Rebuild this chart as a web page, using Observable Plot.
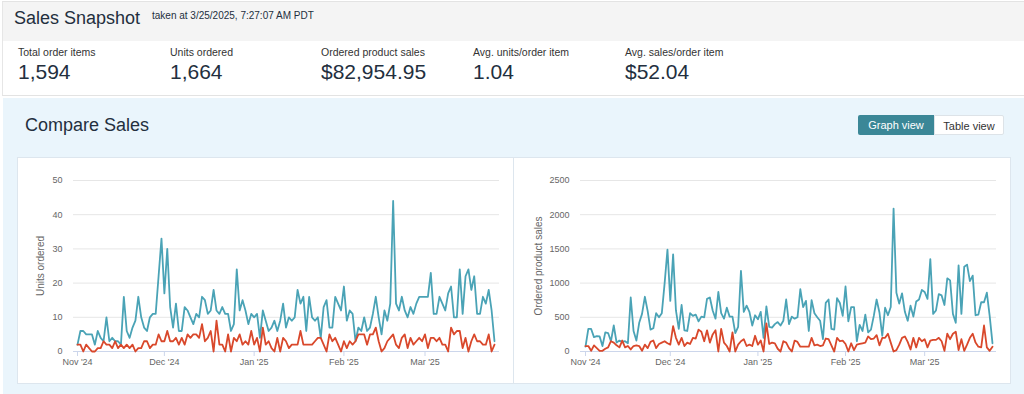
<!DOCTYPE html>
<html><head><meta charset="utf-8">
<script src="https://cdn.jsdelivr.net/npm/d3@7"></script>
<script src="https://cdn.jsdelivr.net/npm/@observablehq/plot@0.6"></script>
<style>
html,body{margin:0;padding:0}
body{width:1024px;height:394px;overflow:hidden;background:#fff;position:relative;font-family:"Liberation Sans",Arial,Helvetica,sans-serif;color:#232f3e}
.abs{position:absolute}
#hdr{left:2px;top:1px;width:1022px;height:39px;background:#f4f4f4;border-top:1px solid #e3e3e3;border-bottom:1px solid #e6e6e6;border-left:1px solid #e6e6e6}
#title{left:14px;top:8px;font-size:18px;line-height:20px;white-space:nowrap}
#taken{left:152px;top:10px;font-size:10px;line-height:12px;white-space:nowrap}
#metrics{left:2px;top:41px;width:1022px;height:54px;background:#fff;border-left:1px solid #e6e6e6;border-bottom:1px solid #e3e3e3}
.mlab{font-size:10.5px;top:46px;line-height:12px;color:#333;white-space:nowrap}
.mval{font-size:21px;top:61px;line-height:22px;color:#232f3e;white-space:nowrap}
#blue{left:3px;top:98px;width:1021px;height:296px;background:#eaf5fc}
#cmp{left:25px;top:115px;font-size:18px;line-height:20px;white-space:nowrap}
.btn{top:115px;height:20px;line-height:20px;font-size:11px;text-align:center;box-sizing:border-box}
#gv{left:858px;width:76px;background:#3b8797;color:#fff;border-radius:2px 0 0 2px}
#tv{left:934px;width:70px;background:#fff;color:#333;border:1px solid #dde3e8;border-radius:0 2px 2px 0}
#panels{left:17px;top:157px;width:994px;height:227px;background:#fff;border:1px solid #dde6ee;box-sizing:border-box}
#divider{left:513px;top:157px;width:1px;height:227px;background:#dde6ee}
#c1{left:17px;top:157px}
#c2{left:514px;top:157px}
</style></head><body>
<div id="hdr" class="abs"></div>
<div id="title" class="abs">Sales Snapshot</div>
<div id="taken" class="abs">taken at 3/25/2025, 7:27:07 AM PDT</div>
<div id="metrics" class="abs"></div>
<div id="mlabs"></div>
<div id="blue" class="abs"></div>
<div id="cmp" class="abs">Compare Sales</div>
<div id="gv" class="abs btn">Graph view</div>
<div id="tv" class="abs btn">Table view</div>
<div id="panels" class="abs"></div>
<div id="divider" class="abs"></div>
<div id="c1" class="abs"></div>
<div id="c2" class="abs"></div>
<script>
// ---- summary metrics ----
const metricLabels = ["Total order items", "Units ordered", "Ordered product sales", "Avg. units/order item", "Avg. sales/order item"];
const metricValues = ["1,594", "1,664", "$82,954.95", "1.04", "$52.04"];
const metricX = [18, 170, 321, 473, 625];

// ---- daily series, Nov 1 2024 .. Mar 25 2025 ----
const startDay = "2024-11-01";
const unitsCurrent = [
  2,6,6,5,5,5,2,6,4,3,
  10,3,4,3,3,2,16,6,4,7,
  9,16,10,7,6,10,11,11,22,33,
  17,30,13,7,14,6,6,13,12,10,
  8,11,10,16,15,11,12,18,12,11,
  13,11,11,6,8,24,12,15,12,8,
  11,10,11,4,12,9,6,7,9,6,
  9,14,7,10,9,10,18,14,16,6,
  16,10,9,10,4,13,15,7,7,16,
  14,12,19,9,12,11,3,7,6,10,
  6,7,11,16,10,5,12,9,14,44,
  14,12,16,12,10,13,11,14,16,16,
  16,16,23,11,11,16,14,12,17,19,
  10,10,24,11,22,24,18,22,11,11,
  16,14,18,12,3];
const unitsPrevious = [
  2,2,0,2,1,0,0,1,1,3,
  2,2,1,3,1,2,1,2,1,2,
  0,1,1,3,3,1,2,2,5,3,
  3,6,3,3,4,2,4,2,5,4,
  5,5,4,8,3,4,6,0,9,2,
  2,0,5,0,4,3,5,2,3,2,
  6,2,4,0,7,2,3,1,0,4,
  0,4,3,1,2,2,2,6,2,2,
  2,2,3,4,4,2,0,5,3,4,
  2,0,3,1,3,2,3,5,5,5,
  2,5,5,7,3,0,1,3,4,5,
  2,1,4,5,1,4,2,3,4,3,
  5,1,4,4,3,4,2,2,0,7,
  5,6,6,1,4,0,3,5,3,3,
  2,2,5,0,2];
const salesCurrent = [
  70,330,330,210,225,220,80,280,270,150,
  380,130,160,140,150,120,790,300,160,420,
  550,800,590,320,340,560,500,560,1000,1490,
  740,1420,600,330,680,310,300,560,520,540,
  440,510,500,770,790,600,480,870,560,480,
  640,510,510,270,360,1180,580,670,580,380,
  530,470,580,200,660,360,350,400,430,380,
  450,760,400,510,480,500,910,650,740,300,
  750,560,500,450,180,710,760,330,320,780,
  710,520,950,440,650,650,150,390,300,540,
  280,320,520,760,570,230,640,530,650,2090,
  860,700,850,580,450,670,510,730,760,900,
  870,770,1350,550,600,840,820,680,1070,1040,
  550,420,1260,550,1240,1270,1030,1110,530,540,
  720,720,860,520,120];
const salesPrevious = [
  80,80,10,90,50,10,10,40,60,150,
  130,90,60,160,60,80,30,80,90,80,
  10,100,50,140,160,50,110,130,150,120,
  100,370,200,100,200,80,130,110,200,190,
  320,290,150,310,130,250,310,0,330,130,
  80,0,280,0,100,150,180,80,100,80,
  230,100,160,0,410,110,130,120,40,0,
  150,130,50,0,160,140,70,70,70,70,
  200,90,100,80,90,190,180,90,0,200,
  150,160,110,0,120,20,100,110,120,130,
  220,180,190,240,90,200,200,260,130,0,
  20,100,200,220,140,30,200,60,200,150,
  180,60,160,170,170,200,150,10,260,180,
  260,290,20,180,10,100,200,260,130,70,
  60,380,60,10,70];

// ---- axis ticks ----
const monthTickDates = ["2024-11-01", "2024-12-01", "2025-01-01", "2025-02-01", "2025-03-01"];
const monthTickLabels = ["Nov '24", "Dec '24", "Jan '25", "Feb '25", "Mar '25"];
const unitsTicks = [0, 10, 20, 30, 40, 50];
const salesTicks = [0, 500, 1000, 1500, 2000, 2500];

const teal = "#4aa3b6";
const red = "#d9482b";

// metric texts
const ml = document.getElementById("mlabs");
metricLabels.forEach((t, i) => {
  const a = document.createElement("div"); a.className = "abs mlab"; a.style.left = metricX[i] + "px"; a.textContent = t; ml.appendChild(a);
  const b = document.createElement("div"); b.className = "abs mval"; b.style.left = metricX[i] + "px"; b.textContent = metricValues[i]; ml.appendChild(b);
});

const start = new Date(startDay + "T00:00:00Z");
const dates = d3.utcDay.range(start, d3.utcDay.offset(start, unitsCurrent.length));
const monthTicks = monthTickDates.map(s => new Date(s + "T00:00:00Z"));

function chart({width, cur, prev, yMax, yTicks, label, marginLeft, marginRight, xRange, labelDx}) {
  const data = dates.map((d, i) => ({date: d, cur: cur[i], prev: prev[i]}));
  return Plot.plot({
    width, height: 226,
    marginTop: 23, marginBottom: 32, marginLeft, marginRight,
    style: {fontFamily: '"Liberation Sans", Arial, sans-serif', fontSize: "9px", color: "#666", background: "transparent", overflow: "visible"},
    x: {type: "utc", domain: [dates[0], dates[dates.length - 1]], range: xRange},
    y: {domain: [0, yMax]},
    marks: [
      Plot.gridY(yTicks, {stroke: "#e6e6e6", strokeOpacity: 1}),
      Plot.axisY(yTicks, {tickSize: 0, tickPadding: 11, label: null, fill: "#666", tickFormat: d => String(d)}),
      Plot.ruleY([0], {stroke: "#ccd6eb"}),
      Plot.axisX(monthTicks, {
        tickSize: 5, tickPadding: 2, label: null, stroke: "#ccd6eb", fill: "#666",
        tickFormat: d => monthTickLabels[monthTicks.findIndex(t => +t === +d)]
      }),
      Plot.lineY(data, {x: "date", y: "cur", stroke: teal, strokeWidth: 1.8}),
      Plot.lineY(data, {x: "date", y: "prev", stroke: red, strokeWidth: 1.8}),
      Plot.text([label], {frameAnchor: "left", rotate: -90, textAnchor: "middle", lineAnchor: "middle", dx: labelDx, fill: "#666", fontSize: 10})
    ]
  });
}

document.getElementById("c1").appendChild(chart({
  width: 496, cur: unitsCurrent, prev: unitsPrevious, yMax: 50, yTicks: unitsTicks,
  label: "Units ordered", marginLeft: 56, marginRight: 14, xRange: [60, 477], labelDx: -33
}));
document.getElementById("c2").appendChild(chart({
  width: 497, cur: salesCurrent, prev: salesPrevious, yMax: 2500, yTicks: salesTicks,
  label: "Ordered product sales", marginLeft: 66, marginRight: 15, xRange: [71, 478], labelDx: -42
}));
</script>
</body></html>
